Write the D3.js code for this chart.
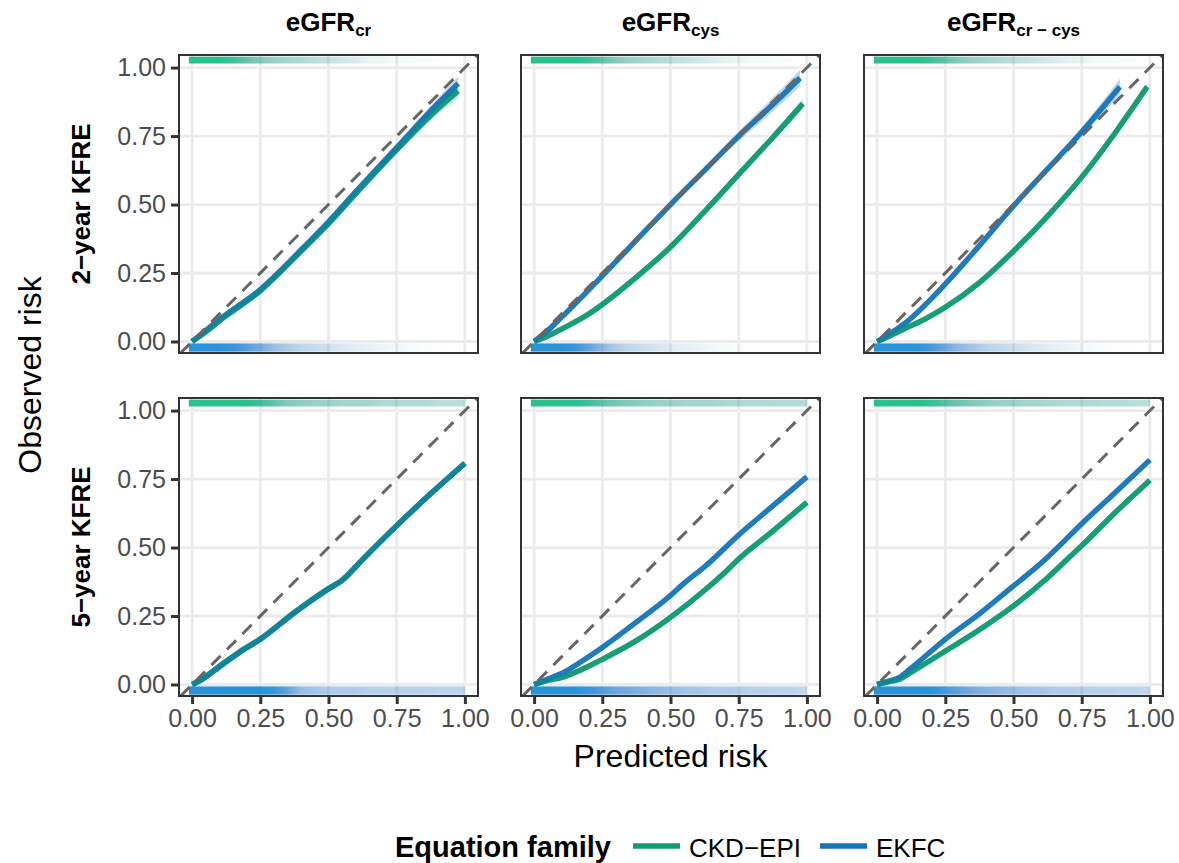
<!DOCTYPE html>
<html>
<head>
<meta charset="utf-8">
<script src="https://cdn.jsdelivr.net/npm/d3@7"></script>
<style>
  body { margin: 0; background: #fff; }
  text { font-family: "Liberation Sans", Arial, sans-serif; }
</style>
</head>
<body>
<svg id="chart" width="1179" height="863"></svg>
<script>
// ---- data ----
const columnSubs = ["cr", "cys", "cr \u2212 cys"];
const rowLabels = ["2\u2212year KFRE", "5\u2212year KFRE"];
const familyNames = ["CKD\u2212EPI", "EKFC"];
const tickValues = [0, 0.25, 0.5, 0.75, 1];

// [predicted, observed, ci half width]
const y2_cr_ckd = [[0,0,0],[0.05,0.035,0],[0.1,0.075,0],[0.25,0.185,0],[0.4,0.33,0],[0.5,0.43,0],[0.6,0.54,0.004],[0.75,0.70,0.012],[0.9,0.85,0.02],[0.975,0.915,0.025]];
const y2_cr_ekfc = [[0,0,0],[0.05,0.04,0],[0.1,0.08,0],[0.25,0.19,0],[0.4,0.335,0],[0.5,0.437,0],[0.6,0.547,0.004],[0.75,0.708,0.012],[0.9,0.868,0.02],[0.975,0.942,0.025]];
const y2_cys_ckd = [[0,0,0],[0.05,0.02,0],[0.1,0.045,0],[0.2,0.1,0],[0.25,0.135,0],[0.375,0.235,0],[0.5,0.345,0],[0.625,0.475,0],[0.75,0.61,0.006],[0.875,0.745,0.012],[0.985,0.868,0.018]];
const y2_cys_ekfc = [[0,0,0],[0.05,0.04,0],[0.1,0.088,0],[0.25,0.24,0],[0.375,0.37,0],[0.5,0.5,0.003],[0.625,0.625,0.01],[0.75,0.75,0.018],[0.875,0.865,0.025],[0.975,0.962,0.03]];
const y2_crcys_ckd = [[0,0,0],[0.05,0.022,0],[0.1,0.046,0],[0.175,0.082,0],[0.25,0.125,0],[0.375,0.215,0],[0.5,0.33,0],[0.625,0.458,0],[0.75,0.6,0.004],[0.875,0.765,0.01],[0.99,0.93,0.015]];
const y2_crcys_ekfc = [[0,0,0],[0.05,0.03,0],[0.1,0.065,0],[0.25,0.21,0],[0.375,0.35,0],[0.5,0.495,0],[0.625,0.63,0.008],[0.75,0.765,0.016],[0.89,0.93,0.03]];

const y5_cr_ckd = [[0,0],[0.03,0.016],[0.1,0.067],[0.175,0.12],[0.25,0.166],[0.375,0.263],[0.5,0.35],[0.55,0.381],[0.625,0.457],[0.75,0.58],[0.875,0.697],[1.0,0.808]];
const y5_cr_ekfc = [[0,0],[0.03,0.014],[0.1,0.064],[0.175,0.118],[0.25,0.165],[0.375,0.262],[0.5,0.349],[0.55,0.38],[0.625,0.456],[0.75,0.58],[0.875,0.697],[1.0,0.808]];
const y5_cys_ckd = [[0,0],[0.05,0.015],[0.1,0.025],[0.175,0.055],[0.25,0.092],[0.375,0.16],[0.5,0.245],[0.625,0.344],[0.7,0.41],[0.75,0.458],[0.875,0.56],[1.0,0.665]];
const y5_cys_ekfc = [[0,0],[0.05,0.02],[0.1,0.04],[0.175,0.085],[0.25,0.135],[0.375,0.228],[0.5,0.325],[0.55,0.37],[0.625,0.43],[0.75,0.546],[0.875,0.652],[1.0,0.758]];
const y5_crcys_ckd = [[0,0],[0.04,0.01],[0.08,0.018],[0.125,0.045],[0.25,0.122],[0.375,0.2],[0.5,0.287],[0.625,0.39],[0.7,0.46],[0.75,0.507],[0.875,0.63],[1.0,0.746]];
const y5_crcys_ekfc = [[0,0],[0.04,0.012],[0.08,0.025],[0.125,0.06],[0.25,0.165],[0.375,0.258],[0.5,0.36],[0.55,0.4],[0.625,0.465],[0.75,0.587],[0.875,0.703],[1.0,0.82]];

// rug density (opacity) at predicted risk 0, 0.05, ... 1
const rugTop_y2_cr = [1,1,1,0.9,0.75,0.6,0.5,0.45,0.4,0.35,0.3,0.25,0.2,0.12,0.1,0.06,0.05,0.03,0.02,0.01,0];
const rugBot_y2_cr = [1,1,1,0.95,0.85,0.7,0.55,0.45,0.38,0.32,0.28,0.22,0.18,0.14,0.1,0.08,0.05,0.03,0.02,0.01,0];
const rugTop_y2_cys = [1,1,1,1,0.9,0.75,0.6,0.5,0.45,0.4,0.35,0.3,0.25,0.2,0.15,0.1,0.08,0.06,0.04,0.02,0.01];
const rugBot_y2_cys = [1,1,1,0.95,0.8,0.6,0.45,0.35,0.3,0.25,0.2,0.15,0.12,0.08,0.05,0.03,0.02,0.01,0,0,0];
const rugTop_y2_crcys = [1,1,1,1,0.9,0.75,0.6,0.5,0.45,0.4,0.35,0.3,0.25,0.2,0.15,0.12,0.08,0.06,0.04,0.02,0.01];
const rugBot_y2_crcys = [1,1,1,1,0.9,0.75,0.6,0.5,0.4,0.35,0.3,0.25,0.2,0.15,0.12,0.08,0.05,0.03,0.02,0.01,0];
const rugTop_y5_cr = [1,1,1,1,1,0.9,0.75,0.6,0.55,0.5,0.5,0.45,0.45,0.45,0.4,0.4,0.4,0.4,0.35,0.35,0.35];
const rugBot_y5_cr = [1,1,1,1,1,1,0.95,0.8,0.55,0.5,0.45,0.45,0.45,0.4,0.4,0.4,0.4,0.4,0.38,0.38,0.38];
const rugTop_y5_cys = [1,1,1,1,0.9,0.75,0.65,0.6,0.55,0.5,0.5,0.45,0.45,0.45,0.42,0.4,0.4,0.4,0.38,0.38,0.38];
const rugBot_y5_cys = [1,1,1,1,0.95,0.85,0.75,0.7,0.65,0.6,0.55,0.5,0.5,0.45,0.45,0.42,0.4,0.4,0.38,0.38,0.35];
const rugTop_y5_crcys = [1,1,1,1,0.95,0.8,0.7,0.6,0.55,0.5,0.5,0.45,0.45,0.42,0.4,0.4,0.4,0.38,0.38,0.36,0.35];
const rugBot_y5_crcys = [1,1,1,1,1,0.9,0.8,0.7,0.65,0.6,0.55,0.5,0.5,0.45,0.45,0.42,0.4,0.4,0.38,0.38,0.35];

const panels = [
  { row: 0, col: 0, ckd: y2_cr_ckd, ekfc: y2_cr_ekfc, rugTop: rugTop_y2_cr, rugBot: rugBot_y2_cr },
  { row: 0, col: 1, ckd: y2_cys_ckd, ekfc: y2_cys_ekfc, rugTop: rugTop_y2_cys, rugBot: rugBot_y2_cys },
  { row: 0, col: 2, ckd: y2_crcys_ckd, ekfc: y2_crcys_ekfc, rugTop: rugTop_y2_crcys, rugBot: rugBot_y2_crcys },
  { row: 1, col: 0, ckd: y5_cr_ckd, ekfc: y5_cr_ekfc, rugTop: rugTop_y5_cr, rugBot: rugBot_y5_cr },
  { row: 1, col: 1, ckd: y5_cys_ckd, ekfc: y5_cys_ekfc, rugTop: rugTop_y5_cys, rugBot: rugBot_y5_cys },
  { row: 1, col: 2, ckd: y5_crcys_ckd, ekfc: y5_crcys_ekfc, rugTop: rugTop_y5_crcys, rugBot: rugBot_y5_crcys }
];

// ---- layout ----
const colors = { ckd: "#109b73", ekfc: "#1474b8" };
const panelLeft = [179, 521, 864];
const panelTop = [55, 398];
const panelW = 299, panelH = 298;

const svg = d3.select("#chart");
const defs = svg.append("defs");

const x = d3.scaleLinear().domain([-0.048, 1.048]).range([0, panelW]);
const y = d3.scaleLinear().domain([-0.042, 1.046]).range([panelH, 0]);

const topRugColor = d3.interpolateRgbBasis(["#4fa69c", "#2d9c8c", "#28c08e"]);
const botRugColor = d3.interpolateRgbBasis(["#5fa9c2", "#4a7fcf", "#2a93d8"]);

const line = d3.line()
  .x(d => x(d[0]))
  .y(d => y(d[1]))
  .curve(d3.curveMonotoneX);

const area = d3.area()
  .x(d => x(d[0]))
  .y0(d => y(d[1] - d[2]))
  .y1(d => y(d[1] + d[2]))
  .curve(d3.curveMonotoneX);

function makeRugGradient(id, density, colorFn) {
  const grad = defs.append("linearGradient")
    .attr("id", id)
    .attr("gradientUnits", "userSpaceOnUse")
    .attr("x1", x(0)).attr("x2", x(1))
    .attr("y1", 0).attr("y2", 0);
  density.forEach((d, i) => {
    grad.append("stop")
      .attr("offset", i / (density.length - 1))
      .attr("stop-color", colorFn(d))
      .attr("stop-opacity", Math.min(1, d));
  });
}

panels.forEach((p, k) => {
  const g = svg.append("g")
    .attr("transform", "translate(" + panelLeft[p.col] + "," + panelTop[p.row] + ")");

  defs.append("clipPath").attr("id", "clip" + k)
    .append("rect").attr("width", panelW).attr("height", panelH);

  g.append("rect").attr("width", panelW).attr("height", panelH).attr("fill", "#fff");

  // grid
  g.selectAll(".gx").data(tickValues).enter().append("line")
    .attr("x1", d => x(d)).attr("x2", d => x(d))
    .attr("y1", 0).attr("y2", panelH)
    .attr("stroke", "#ebebeb").attr("stroke-width", 2.8);
  g.selectAll(".gy").data(tickValues).enter().append("line")
    .attr("y1", d => y(d)).attr("y2", d => y(d))
    .attr("x1", 0).attr("x2", panelW)
    .attr("stroke", "#ebebeb").attr("stroke-width", 2.8);

  const inner = g.append("g").attr("clip-path", "url(#clip" + k + ")");

  // rugs
  makeRugGradient("rugTop" + k, p.rugTop, topRugColor);
  makeRugGradient("rugBot" + k, p.rugBot, botRugColor);
  inner.append("rect")
    .attr("x", x(-0.012)).attr("width", x(1) - x(-0.012))
    .attr("y", y(1.04)).attr("height", y(1.015) - y(1.04))
    .attr("fill", "url(#rugTop" + k + ")");
  inner.append("rect")
    .attr("x", x(-0.012)).attr("width", x(1) - x(-0.012))
    .attr("y", y(-0.007)).attr("height", y(-0.037) - y(-0.007))
    .attr("fill", "url(#rugBot" + k + ")");

  // ribbons
  ["ckd", "ekfc"].forEach(key => {
    const pts = p[key];
    if (pts[0].length > 2) {
      const firstCi = pts.findIndex(d => d[2] > 0);
      if (firstCi > 0) {
        inner.append("path")
          .datum(pts.slice(firstCi - 1))
          .attr("d", area)
          .attr("fill", colors[key])
          .attr("fill-opacity", 0.28);
      }
    }
  });

  // curves: CKD-EPI, EKFC on top, then a faint CKD-EPI pass so overlaps blend
  const drawCurve = (key, opacity) => {
    inner.append("path")
      .datum(p[key])
      .attr("d", line)
      .attr("fill", "none")
      .attr("stroke", colors[key])
      .attr("stroke-opacity", opacity)
      .attr("stroke-width", 5.4);
  };
  drawCurve("ckd", 0.95);
  drawCurve("ekfc", 0.95);
  drawCurve("ckd", 0.4);

  // identity line
  inner.append("line")
    .attr("x1", x(-0.1)).attr("y1", y(-0.1))
    .attr("x2", x(1.1)).attr("y2", y(1.1))
    .attr("stroke", "#666")
    .attr("stroke-width", 3)
    .attr("stroke-dasharray", "13,9");

  g.append("rect").attr("width", panelW).attr("height", panelH)
    .attr("fill", "none").attr("stroke", "#333").attr("stroke-width", 2);

  // axes
  if (p.col === 0) {
    const ax = g.append("g")
      .call(d3.axisLeft(y).tickValues(tickValues).tickFormat(d3.format(".2f")).tickSize(8).tickPadding(5));
    styleAxis(ax);
  }
  if (p.row === 1) {
    const ax = g.append("g")
      .attr("transform", "translate(0," + panelH + ")")
      .call(d3.axisBottom(x).tickValues(tickValues).tickFormat(d3.format(".2f")).tickSize(8).tickPadding(5));
    styleAxis(ax);
  }
});

function styleAxis(ax) {
  ax.select(".domain").remove();
  ax.selectAll(".tick line").attr("stroke", "#333").attr("stroke-width", 3);
  ax.selectAll(".tick text")
    .attr("fill", "#4d4d4d")
    .style("font-size", "25px")
    .style("font-family", "'Liberation Sans', Arial, sans-serif");
}

// column strip titles
columnSubs.forEach((sub, i) => {
  const t = svg.append("text")
    .attr("x", panelLeft[i] + panelW / 2)
    .attr("y", 31)
    .attr("text-anchor", "middle")
    .attr("font-weight", "bold")
    .attr("font-size", 26)
    .attr("fill", "#000");
  t.append("tspan").text("eGFR");
  t.append("tspan").text(sub).attr("font-size", 17).attr("dy", 5);
});

// row strip titles
rowLabels.forEach((lab, i) => {
  svg.append("text")
    .attr("transform", "translate(90," + (panelTop[i] + panelH / 2) + ") rotate(-90)")
    .attr("text-anchor", "middle")
    .attr("font-weight", "bold")
    .attr("font-size", 26)
    .attr("fill", "#000")
    .text(lab);
});

// axis titles
svg.append("text")
  .attr("transform", "translate(41,375) rotate(-90)")
  .attr("text-anchor", "middle")
  .attr("font-size", 32)
  .attr("fill", "#000")
  .text("Observed risk");
svg.append("text")
  .attr("x", panelLeft[1] + panelW / 2)
  .attr("y", 767)
  .attr("text-anchor", "middle")
  .attr("font-size", 32)
  .attr("fill", "#000")
  .text("Predicted risk");

// legend
const legend = svg.append("g");
legend.append("text")
  .attr("x", 395).attr("y", 857)
  .attr("font-weight", "bold").attr("font-size", 29)
  .text("Equation family");
const legendX = [633, 820];
["ckd", "ekfc"].forEach((key, i) => {
  legend.append("line")
    .attr("x1", legendX[i]).attr("x2", legendX[i] + 47)
    .attr("y1", 846).attr("y2", 846)
    .attr("stroke", colors[key]).attr("stroke-width", 5.4);
  legend.append("text")
    .attr("x", legendX[i] + 56).attr("y", 857)
    .attr("font-size", 26)
    .text(familyNames[i]);
});
</script>
</body>
</html>
